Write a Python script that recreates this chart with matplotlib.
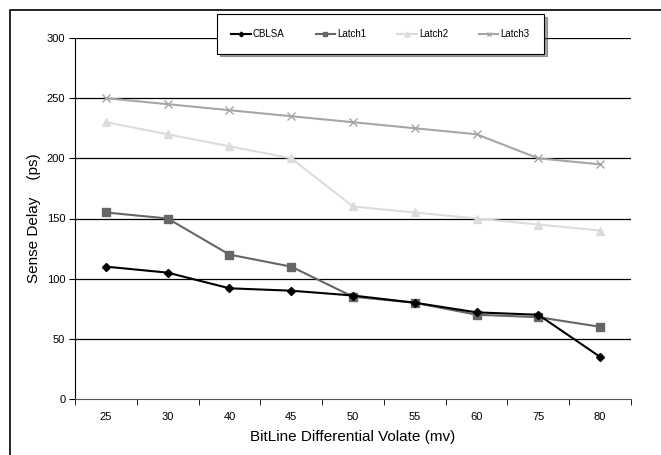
import matplotlib
matplotlib.use("Agg")
import matplotlib.pyplot as plt
from matplotlib.patches import Rectangle
import numpy as np

plt.rcParams['font.family'] = ['Liberation Sans', 'DejaVu Sans']

categories = ["25", "30", "40", "45", "50", "55", "60", "75", "80"]
cblsa = [110, 105, 92, 90, 86, 80, 72, 70, 35]
latch1 = [155, 150, 120, 110, 85, 80, 70, 68, 60]
latch2 = [230, 220, 210, 200, 160, 155, 150, 145, 140]
latch3 = [250, 245, 240, 235, 230, 225, 220, 200, 195]
yticks = [0, 50, 100, 150, 200, 250, 300]

W, H = 661, 455
fig = plt.figure(figsize=(W/100, H/100), dpi=100)
ax = fig.add_axes([75/W, 1-399/H, (631-75)/W, (399-38)/H])

x = np.arange(len(categories))
ax.set_ylim(0, 300)
ax.set_xlim(-0.5, len(categories)-0.5)
for v in yticks[1:]:
    ax.axhline(v, color='black', lw=0.9, zorder=1)

ax.plot(x, latch3, color='#a6a6a6', lw=1.5, marker='x', ms=6, mew=1.0, label='Latch3', zorder=3)
ax.plot(x, latch2, color='#dcdcdc', lw=1.5, marker='^', ms=6, label='Latch2', zorder=3)
ax.plot(x, latch1, color='#666666', lw=1.5, marker='s', ms=6, label='Latch1', zorder=4)
ax.plot(x, cblsa, color='black', lw=1.5, marker='D', ms=4, label='CBLSA', zorder=5)

ax.set_yticks(yticks)
ax.set_yticklabels([str(v) for v in yticks], fontsize=8)
ax.set_xticks(x)
ax.set_xticklabels(categories, fontsize=8)
ax.set_xticks(np.arange(-0.5, len(categories)), minor=True)
ax.tick_params(axis='x', which='major', length=0, pad=9)
ax.tick_params(axis='x', which='minor', length=4, direction='out', color='black')
ax.tick_params(axis='y', length=4, direction='out', pad=3)
for s in ['top', 'right']:
    ax.spines[s].set_visible(False)
ax.spines['left'].set_color('black')
ax.spines['bottom'].set_color('#555555')

ax.set_ylabel('Sense Delay    (ps)', fontsize=11, labelpad=4)
ax.set_xlabel('BitLine Differential Volate (mv)', fontsize=11, labelpad=6)

handles, labels = ax.get_legend_handles_labels()
order = [3, 2, 1, 0]
leg = fig.legend([handles[i] for i in order], [labels[i] for i in order],
                 loc='center', bbox_to_anchor=((222+539)/2/W, 1-34/H),
                 ncol=4, fontsize=7, frameon=True, fancybox=False, shadow=True,
                 handlelength=2.0, handletextpad=0.2, columnspacing=3.2,
                 borderpad=1.5, markerscale=0.6)
leg.get_frame().set_edgecolor('black')
leg.get_frame().set_linewidth(0.8)

fig.patches.append(Rectangle((10/W, -0.1), 1.2, 1.1-10/H, transform=fig.transFigure,
                             fill=False, edgecolor='black', lw=1.2))

fig.savefig('out.png', dpi=100)
